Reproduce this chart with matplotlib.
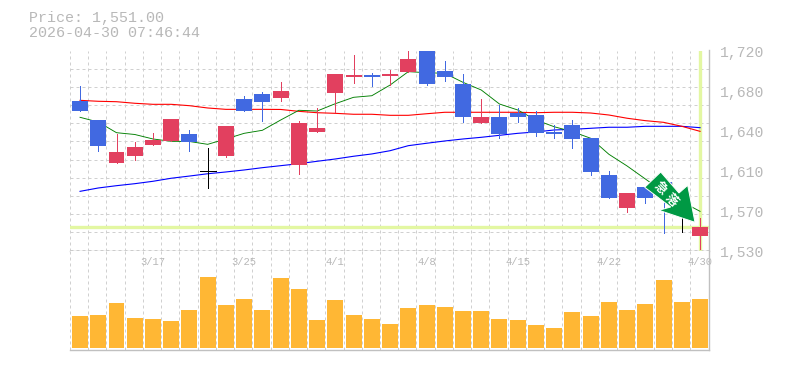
import numpy as np
import matplotlib
matplotlib.use("Agg")
import matplotlib.pyplot as plt
from matplotlib.patches import Polygon, Rectangle
from matplotlib.transforms import ScaledTranslation

W, H = 785, 370
DPI = 100
TXT = "#b8b8b8"
GRID = "#d0d0d0"
BAND = "#e3f7a2"
UP = "#e2405f"
DOWN = "#4169e1"

# Candles: prices
opens  = [1673.8,1655.6,1614.6,1621.2,1631.8,1635.6,1642.3,1606.6,1621.2,1675.7,1680.5,1676.6,1612.7,1644.2,1681.4,1696.7,1698.6,1697.6,1701.5,1725.0,1702.4,1690.0,1652.8,1658.5,1662.3,1660.4,1644.2,1650.9,1638.4,1603.1,1571.6,1591.6,1596.4,1574.5,1545.1]
closes = [1664.2,1630.8,1625.1,1629.8,1636.5,1656.6,1634.6,1606.6,1649.9,1664.2,1672.8,1683.3,1652.8,1648.0,1699.6,1698.6,1696.7,1699.6,1713.9,1690.3,1696.7,1658.5,1658.5,1642.3,1658.5,1643.2,1642.3,1637.5,1606.0,1581.1,1585.9,1581.1,1585.9,1574.5,1553.4]
highs  = [1688.1,1655.6,1642.3,1634.6,1643.2,1656.6,1646.1,1628.9,1649.9,1678.5,1682.4,1691.9,1654.7,1667.1,1699.6,1717.7,1700.5,1703.4,1721.5,1725.0,1712.0,1699.6,1675.7,1670.0,1667.1,1664.2,1650.9,1655.6,1638.4,1606.9,1585.9,1591.6,1596.4,1579.0,1562.0]
lows   = [1664.2,1626.3,1614.6,1617.4,1631.8,1635.6,1626.0,1590.7,1620.3,1664.2,1654.7,1673.8,1604.1,1644.2,1663.3,1691.0,1688.1,1689.0,1701.5,1689.3,1692.9,1653.7,1652.8,1638.4,1653.7,1640.3,1638.4,1628.9,1603.1,1581.1,1567.8,1576.4,1547.7,1548.7,1532.4]
volumes = [32,33,45,30,29,27,38,71,43,49,38,70,59,28,48,33,29,24,40,43,41,37,37,29,28,23,20,36,32,46,38,44,68,46,49]

# Moving averages: prices
ma_short = [1658.2,1653.7,1643.5,1641.8,1637.5,1635.3,1635.1,1632.4,1637.5,1642.9,1645.8,1655.6,1664.9,1664.2,1671.2,1677.3,1678.8,1689.0,1701.8,1700.8,1700.2,1691.6,1684.3,1670.9,1665.2,1655.6,1649.2,1644.5,1638.2,1622.9,1611.7,1599.3,1586.9,1577.6,1568.4]
ma_mid   = [1674.4,1673.5,1673.1,1671.6,1670.6,1670.6,1669.3,1667.1,1665.8,1665.8,1665.8,1665.7,1663.9,1662.6,1662.0,1661.1,1661.1,1660.1,1660.1,1661.6,1663.0,1663.0,1663.0,1663.0,1663.0,1662.6,1663.0,1663.0,1662.3,1660.4,1657.3,1655.0,1653.4,1649.6,1644.8]
ma_long  = [1587.5,1590.7,1592.9,1594.8,1597.1,1600.0,1602.1,1604.3,1606.0,1607.9,1610.1,1612.0,1613.9,1616.2,1618.4,1621.0,1623.2,1626.3,1631.1,1633.4,1635.6,1637.5,1639.1,1641.0,1642.9,1644.2,1646.1,1646.7,1647.7,1648.7,1648.7,1649.6,1649.6,1649.6,1648.3]

date_idx = [4, 9, 14, 19, 24, 29, 34]
date_labels = ["3/17", "3/25", "4/1", "4/8", "4/15", "4/22", "4/30"]
price_tick_values = [1722.0, 1683.8, 1645.6, 1607.4, 1569.2, 1531.0]
price_tick_labels = ["1,720", "1,680", "1,640", "1,610", "1,570", "1,530"]
band_price = 1553.2

x = np.arange(len(opens))
XMIN, XMAX = -0.55, 34.49
plt.rcParams["font.family"] = ["Liberation Mono", "DejaVu Sans Mono"]

fig = plt.figure(figsize=(W / DPI, H / DPI), dpi=DPI, facecolor="white")
def axes_px(l, t, r, b):
    return fig.add_axes([l / W, 1 - b / H, (r - l) / W, (b - t) / H])

ax = axes_px(70, 50.5, 709, 250.5)
av = axes_px(70, 250.5, 709, 350)

for a in (ax, av):
    a.set_xlim(XMIN, XMAX)
    a.set_xticks(np.arange(0, 35) - 0.55)
    a.grid(axis="x", color=GRID, lw=0.72, ls=(0, (3, 3)))
    a.set_axisbelow(True)
    a.tick_params(length=0)
    for s in a.spines.values():
        s.set_visible(False)
    for side in ("right", "bottom"):
        a.spines[side].set_visible(True)
        a.spines[side].set_color("#c0c0c0")
        a.spines[side].set_linewidth(1.0)
    a.set_xticklabels([])

# price panel
ax.set_ylim(1531.0, 1722.0)
ax.set_yticks(np.linspace(1531.0, 1722.0, 12))
ax.grid(axis="y", color=GRID, lw=0.72, ls=(0, (3, 3)))
ax.set_yticklabels([])
ax.tick_params(labelleft=False)
off = ScaledTranslation(0, -3 / DPI, fig.dpi_scale_trans)
for v, lab in zip(price_tick_values, price_tick_labels):
    ax.text(1.0 + 11 / 639, v, lab, transform=ax.get_yaxis_transform() + off,
            ha="left", va="center", color=TXT, fontsize=10.6, clip_on=False)

ax.axhline(band_price, color=BAND, lw=2.4, zorder=1.2)
ax.axvline(x[-1], color=BAND, lw=2.4, zorder=1.2)

ax.plot(x, ma_long, color="#0000ff", lw=0.8, zorder=2)
ax.plot(x, ma_mid, color="#ff0000", lw=0.8, zorder=2)
ax.plot(x, ma_short, color="#007f00", lw=0.65, zorder=2)

BW = 16 / 18.25
for i in x:
    o, c, hi, lo = opens[i], closes[i], highs[i], lows[i]
    col = UP if c > o else DOWN if c < o else "black"
    ax.vlines(i, lo, hi, color=col, lw=0.72, antialiased=False, zorder=3)
    if c == o:
        ax.hlines(o, i - BW / 2, i + BW / 2, color=col, lw=0.72, antialiased=False, zorder=3)
    else:
        ax.add_patch(Rectangle((i - BW / 2, min(o, c)), BW, abs(c - o), fc=col, ec="none", zorder=3))

# volume panel
av.set_ylim(-2.0, 97.5)
av.set_yticks([])
av.bar(x, volumes, width=BW, color="#ffb734", zorder=3)
for i, lab in zip(date_idx, date_labels):
    av.text(i, 1 - 11.5 / 99.5, lab, transform=av.get_xaxis_transform(), ha="center", va="center",
            color=TXT, fontsize=7.6, zorder=1, clip_on=False)

# header
fig.text(29 / W, 1 - 18 / H, "Price: 1,551.00", color=TXT, fontsize=10.8, va="center", ha="left")
fig.text(29 / W, 1 - 33 / H, "2026-04-30 07:46:44", color=TXT, fontsize=10.8, va="center", ha="left")

# decorative arrow sticker
arrow_px = [(660.7, 172), (644.7, 187.3), (670.7, 207), (659, 210.3), (695, 222.3), (687.7, 185.3), (679, 193)]
fig.add_artist(Polygon([(px / W, 1 - py / H) for px, py in arrow_px], closed=True, transform=fig.transFigure,
                       fc="#009944", ec="white", lw=0.7, zorder=10))
for ch, (px, py) in zip("急落", [(660, 188.7), (671.7, 200.3)]):
    fig.text(px / W, 1 - py / H, ch, color="white", fontsize=9, rotation=-45, rotation_mode="anchor",
             ha="center", va="center", family=["Noto Sans CJK JP"], weight="bold", zorder=11)

fig.savefig("out.png", dpi=DPI, facecolor="white")
